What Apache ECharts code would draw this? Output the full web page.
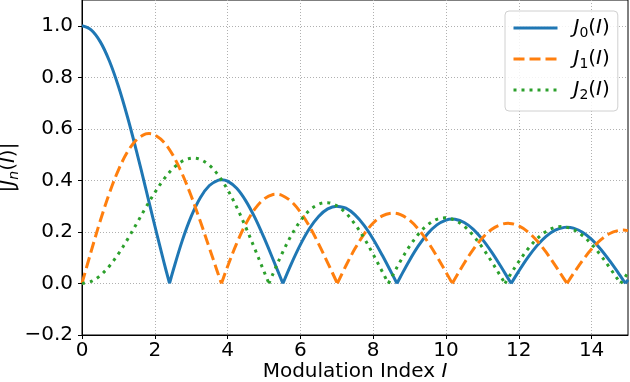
<!DOCTYPE html>
<html>
<head>
<meta charset="utf-8">
<script src="https://cdn.jsdelivr.net/npm/echarts@6/dist/echarts.min.js"></script>
<style>html,body{margin:0;padding:0;background:#fff;}#c{width:630px;height:382px;}</style>
</head>
<body>
<div id="c"></div>
<script>
// |J0(I)|
var j0X = [0,0.25,0.5,0.75,1,1.25,1.5,1.75,2,2.25,2.4048,2.5,2.75,3,3.25,3.5,3.75,3.8317,4,4.25,4.5,4.75,5,5.25,5.5,5.5201,5.75,6,6.25,6.5,6.75,7,7.0156,7.25,7.5,7.75,8,8.25,8.5,8.6537,8.75,9,9.25,9.5,9.75,10,10.1735,10.25,10.5,10.75,11,11.25,11.5,11.75,11.7915,12,12.25,12.5,12.75,13,13.25,13.3237,13.5,13.75,14,14.25,14.5,14.75,14.9309,15];
var j0Y = [1,0.9844,0.9385,0.8642,0.7652,0.6459,0.5118,0.3690,0.2239,0.0827,0,0.0484,0.1643,0.2601,0.3329,0.3801,0.4014,0.4028,0.3971,0.3693,0.3205,0.2552,0.1776,0.0931,0.0068,0,0.0761,0.1506,0.2132,0.2601,0.2896,0.3001,0.3001,0.2920,0.2660,0.2252,0.1717,0.1092,0.0419,0,0.0260,0.0903,0.1475,0.1939,0.2275,0.2459,0.2497,0.2491,0.2367,0.2102,0.1712,0.1227,0.0677,0.0093,0,0.0477,0.1010,0.1469,0.1830,0.2069,0.2177,0.2184,0.2146,0.1989,0.1711,0.1331,0.0874,0.0374,0,0.0142];
// |J1(I)|
var j1X = [0,0.25,0.5,0.75,1,1.25,1.5,1.75,1.8412,2,2.25,2.5,2.75,3,3.25,3.5,3.75,3.8317,4,4.25,4.5,4.75,5,5.25,5.3314,5.5,5.75,6,6.25,6.5,6.75,7,7.0156,7.25,7.5,7.75,8,8.25,8.5,8.5363,8.75,9,9.25,9.5,9.75,10,10.1735,10.25,10.5,10.75,11,11.25,11.5,11.706,11.75,12,12.25,12.5,12.75,13,13.25,13.3237,13.5,13.75,14,14.25,14.5,14.75,14.8636,15];
var j1Y = [0,0.1240,0.2423,0.3492,0.4401,0.5106,0.5579,0.5802,0.5819,0.5767,0.5484,0.4971,0.4261,0.3391,0.2411,0.1374,0.0332,0,0.0660,0.1557,0.2311,0.2893,0.3276,0.3452,0.3461,0.3414,0.3181,0.2767,0.2208,0.1538,0.0803,0.0047,0,0.0687,0.1352,0.1917,0.2346,0.2623,0.2731,0.2733,0.2673,0.2453,0.2092,0.1613,0.1049,0.0435,0,0.0189,0.0786,0.1324,0.1768,0.2094,0.2282,0.2333,0.2331,0.2234,0.2004,0.1655,0.1212,0.0703,0.0161,0,0.0380,0.0889,0.1334,0.1688,0.1940,0.2058,0.2070,0.2051];
// |J2(I)|
var j2X = [0,0.25,0.5,0.75,1,1.25,1.5,1.75,2,2.25,2.5,2.75,3,3.0542,3.25,3.5,3.75,4,4.25,4.5,4.75,5,5.1356,5.25,5.5,5.75,6,6.25,6.5,6.7061,6.75,7,7.25,7.5,7.75,8,8.25,8.4172,8.5,8.75,9,9.25,9.5,9.75,9.9695,10,10.25,10.5,10.75,11,11.25,11.5,11.6198,11.75,12,12.25,12.5,12.75,13,13.1704,13.25,13.5,13.75,14,14.25,14.5,14.75,14.796,15];
var j2Y = [0,0.0078,0.0306,0.0671,0.1149,0.1711,0.2321,0.2940,0.3528,0.4047,0.4461,0.4742,0.4861,0.4865,0.4813,0.4586,0.4191,0.3641,0.2960,0.2179,0.1334,0.0466,0,0.0384,0.1173,0.1867,0.2429,0.2839,0.3074,0.3135,0.3134,0.3014,0.2730,0.2300,0.1757,0.1130,0.0456,0,0.0223,0.0871,0.1448,0.1927,0.2279,0.2490,0.2547,0.2546,0.2454,0.2217,0.1856,0.1391,0.0855,0.0280,0,0.0304,0.0849,0.1337,0.1734,0.2020,0.2178,0.2208,0.2201,0.2090,0.1860,0.1520,0.1094,0.0605,0.0095,0,0.0416];

var xTicks = [0,2,4,6,8,10,12,14];
var yTicks = [-0.2,0,0.2,0.4,0.6,0.8,1.0];

// pair x/y; break the line at interior zeros so each lobe is smoothed separately (keeps the cusps sharp)
function pairs(xs, ys){
  var out = [], n = Math.min(xs.length, ys.length);
  for (var i = 0; i < n; i++) {
    out.push([xs[i], ys[i]]);
    if (ys[i] === 0 && i > 0 && i < n - 1) {
      out.push([xs[i], null]);
      out.push([xs[i], ys[i]]);
    }
  }
  return out;
}

var FONT = 'DejaVu Sans';
var FS = 20;
var richBase = {
  i: {fontFamily: FONT, fontStyle: 'italic', fontSize: FS, lineHeight: 24, color: '#000'},
  n: {fontFamily: FONT, fontSize: FS, lineHeight: 24, color: '#000'},
  s: {fontFamily: FONT, fontSize: 14, lineHeight: 13, verticalAlign: 'bottom', color: '#000'},
  si: {fontFamily: FONT, fontStyle: 'italic', fontSize: 14, lineHeight: 13, verticalAlign: 'bottom', color: '#000'},
  sp: {width: 11, fontSize: FS, lineHeight: 24}
};
var legendLabels = {
  J0: '{sp|}{i|J}{s|0}{n|(}{i|I}{n|)}',
  J1: '{sp|}{i|J}{s|1}{n|(}{i|I}{n|)}',
  J2: '{sp|}{i|J}{s|2}{n|(}{i|I}{n|)}'
};

var chart = echarts.init(document.getElementById('c'), null, {renderer: 'canvas'});
chart.setOption({
  animation: false,
  backgroundColor: '#fff',
  textStyle: {fontFamily: FONT},
  grid: {left: 82, right: 2, top: 0, bottom: 47, containLabel: false, outerBoundsMode: 'none',
    show: true, borderColor: '#000', borderWidth: 1, backgroundColor: 'transparent'},
  legend: {
    orient: 'vertical',
    left: 505, top: 11,
    padding: [7, 8, 9, 7],
    itemWidth: 44, itemHeight: 14, itemGap: 9,
    backgroundColor: 'rgba(255,255,255,0.85)',
    borderColor: '#d0d0d0', borderWidth: 1, borderRadius: 4,
    lineStyle: {width: 3},
    itemStyle: {opacity: 0},
    formatter: function(name){ return legendLabels[name]; },
    textStyle: {fontFamily: FONT, fontSize: FS, rich: richBase},
    data: ['J0','J1','J2']
  },
  xAxis: {
    type: 'value', min: 0, max: 15, interval: 2,
    name: '{n|Modulation Index }{i|I}',
    nameLocation: 'middle', nameGap: 25, nameMoveOverlap: false,
    nameTextStyle: {fontFamily: FONT, fontSize: FS, color: '#000', rich: richBase},
    axisLine: {show: true, onZero: false, lineStyle: {color: '#000', width: 1}},
    axisTick: {show: true, length: 4, lineStyle: {color: '#000'}, customValues: xTicks},
    axisLabel: {fontFamily: FONT, fontSize: FS, color: '#000', margin: 6, customValues: xTicks,
      formatter: function(v){ return String(v); }},
    splitLine: {show: true, lineStyle: {color: '#b0b0b0', width: 1, type: [1, 2]}}
  },
  yAxis: {
    type: 'value', min: -0.2, max: 1.1, interval: 0.2,
    name: '{n||}{i|J}{si|n}{n|(}{i|I}{n|)|}',
    nameLocation: 'middle', nameGap: 61, nameMoveOverlap: false,
    nameTextStyle: {fontFamily: FONT, fontSize: FS, color: '#000', rich: richBase},
    axisLine: {show: true, onZero: false, lineStyle: {color: '#000', width: 1}},
    axisTick: {show: true, length: 4, lineStyle: {color: '#000'}, customValues: yTicks},
    axisLabel: {fontFamily: FONT, fontSize: FS, color: '#000', margin: 9, customValues: yTicks,
      formatter: function(v){ return (v < -1e-9 ? '\u2212' : '') + Math.abs(v).toFixed(1); }},
    splitLine: {show: true, lineStyle: {color: '#b0b0b0', width: 1, type: [1, 2]}}
  },
  series: [
    {name: 'J0', type: 'line', data: pairs(j0X, j0Y), showSymbol: false, symbol: 'none',
      smooth: 0.35, connectNulls: false,
      lineStyle: {color: '#1f77b4', width: 3, type: 'solid', join: 'round'}, itemStyle: {color: '#1f77b4'}, z: 3},
    {name: 'J1', type: 'line', data: pairs(j1X, j1Y), showSymbol: false, symbol: 'none',
      smooth: 0.35, connectNulls: false,
      lineStyle: {color: '#ff7f0e', width: 3, type: [11, 5], join: 'round'}, itemStyle: {color: '#ff7f0e'}, z: 3},
    {name: 'J2', type: 'line', data: pairs(j2X, j2Y), showSymbol: false, symbol: 'none',
      smooth: 0.35, connectNulls: false,
      lineStyle: {color: '#2ca02c', width: 3, type: [3, 5], join: 'round'}, itemStyle: {color: '#2ca02c'}, z: 3}
  ]
});
</script>
</body>
</html>
